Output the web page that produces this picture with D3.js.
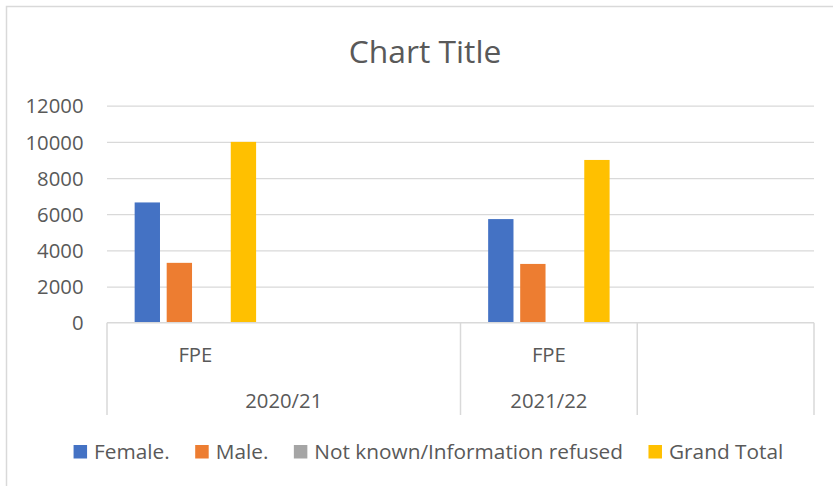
<!DOCTYPE html>
<html>
<head>
<meta charset="utf-8">
<script src="https://cdn.jsdelivr.net/npm/d3@7"></script>
<style>
  html, body { margin: 0; padding: 0; background: #fff; }
  svg { display: block; }
  text { font-family: "Open Sans", "Noto Sans", sans-serif; fill: #595959; }
</style>
</head>
<body>
<div id="chart"></div>
<script>
// ---- data ----
const leafLabels = ["FPE", "", "FPE", ""];
const groupLabels = ["2020/21", "2020/21", "2021/22", ""];
const seriesNames = ["Female.", "Male.", "Not known/Information refused", "Grand Total"];
const female = [6650, null, 5730, null];
const male = [3310, null, 3250, null];
const notKnown = [40, null, 20, null];
const grandTotal = [10000, null, 9000, null];
const yTicks = [0, 2000, 4000, 6000, 8000, 10000, 12000];
const chartTitle = "Chart Title";

const colors = ["#4472C4", "#ED7D31", "#A5A5A5", "#FFC000"];
const seriesValues = [female, male, notKnown, grandTotal];

// ---- layout ----
const W = 833, H = 486;
const plot = { left: 107, right: 814, top: 105.7, bottom: 322.7 };
const axisFont = 20.3;
const legendFont = 20.8;

const svg = d3.select("#chart").append("svg").attr("width", W).attr("height", H);

// chart frame (left/top edges visible)
svg.append("rect").attr("x", 6.5).attr("y", 6.5).attr("width", W + 20).attr("height", H + 20)
  .attr("fill", "#fff").attr("stroke", "#D9D9D9").attr("stroke-width", 1.5);

// title
svg.append("text").attr("x", 425).attr("y", 62.5).attr("text-anchor", "middle")
  .style("font-size", "31.8px").text(chartTitle);

const y = d3.scaleLinear().domain([0, 12000]).range([plot.bottom, plot.top]);
const x0 = d3.scaleBand().domain(d3.range(leafLabels.length)).range([plot.left, plot.right])
  .paddingInner(0).paddingOuter(0);
const x1 = d3.scaleBand().domain(seriesNames).range([0, x0.bandwidth()])
  .paddingInner(0.209).paddingOuter(0.863);

// gridlines
const yAxis = d3.axisLeft(y).tickValues(yTicks).tickSize(-(plot.right - plot.left)).tickPadding(23.5)
  .tickFormat(d3.format("d"));
const gy = svg.append("g").attr("transform", `translate(${plot.left},0)`).call(yAxis);
gy.select(".domain").remove();
gy.selectAll(".tick line").attr("stroke", "#D9D9D9").attr("stroke-width", 1.3);
gy.selectAll(".tick text").attr("fill", "#595959").attr("dy", "0.357em")
  .style("font-size", axisFont + "px").style("font-family", '"Open Sans", sans-serif');
gy.selectAll(".tick").filter(d => d === 0).select("line").remove();

// bars
const rows = leafLabels.map((lab, i) => ({ i, vals: seriesNames.map((s, k) => ({ s, k, v: seriesValues[k][i] })) }));
const groups = svg.append("g").selectAll("g").data(rows).join("g")
  .attr("transform", d => `translate(${x0(d.i)},0)`);
groups.selectAll("rect").data(d => d.vals.filter(e => e.v != null)).join("rect")
  .attr("x", e => x1(e.s)).attr("width", x1.bandwidth())
  .attr("y", e => y(e.v)).attr("height", e => y(0) - y(e.v))
  .attr("fill", e => colors[e.k]);

// category axis: baseline
const axisG = svg.append("g");
axisG.append("line").attr("x1", plot.left).attr("x2", plot.right)
  .attr("y1", plot.bottom).attr("y2", plot.bottom).attr("stroke", "#D9D9D9").attr("stroke-width", 1.5);

// group boundaries
const groupSpans = [];
groupLabels.forEach((g, i) => {
  const last = groupSpans[groupSpans.length - 1];
  if (last && last.label === g && g !== "") last.end = i;
  else groupSpans.push({ label: g, start: i, end: i });
});
const bounds = [plot.left].concat(groupSpans.map(s => x0(s.end) + x0.bandwidth()));
const axisBottom = 415;
axisG.selectAll("line.div").data(bounds).join("line").attr("class", "div")
  .attr("x1", d => d).attr("x2", d => d).attr("y1", plot.bottom).attr("y2", axisBottom)
  .attr("stroke", "#D9D9D9").attr("stroke-width", 1.5);

// leaf labels
axisG.selectAll("text.leaf").data(leafLabels.map((l, i) => ({ l, i }))).join("text").attr("class", "leaf")
  .attr("x", d => x0(d.i) + x0.bandwidth() / 2).attr("y", 361.5).attr("text-anchor", "middle")
  .style("font-size", axisFont + "px").text(d => d.l);

// group labels
axisG.selectAll("text.grp").data(groupSpans).join("text").attr("class", "grp")
  .attr("x", s => (x0(s.start) + x0(s.end) + x0.bandwidth()) / 2).attr("y", 408.3)
  .attr("text-anchor", "middle").style("font-size", axisFont + "px").text(s => s.label);

// legend
const legend = svg.append("g");
const items = legend.selectAll("g").data(seriesNames).join("g");
items.append("rect").attr("width", 13.5).attr("height", 13.5).attr("y", 445)
  .attr("fill", (d, k) => colors[k]);
items.append("text").attr("x", 20.5).attr("y", 459.3).style("font-size", legendFont + "px").text(d => d);
const gapBetween = 25.5;
let widths = [];
items.each(function () { widths.push(20.5 + d3.select(this).select("text").node().getComputedTextLength()); });
const total = d3.sum(widths) + gapBetween * (widths.length - 1);
let cx = 428.4 - total / 2;
items.attr("transform", (d, k) => { const t = `translate(${cx},0)`; cx += widths[k] + gapBetween; return t; });
</script>
</body>
</html>
